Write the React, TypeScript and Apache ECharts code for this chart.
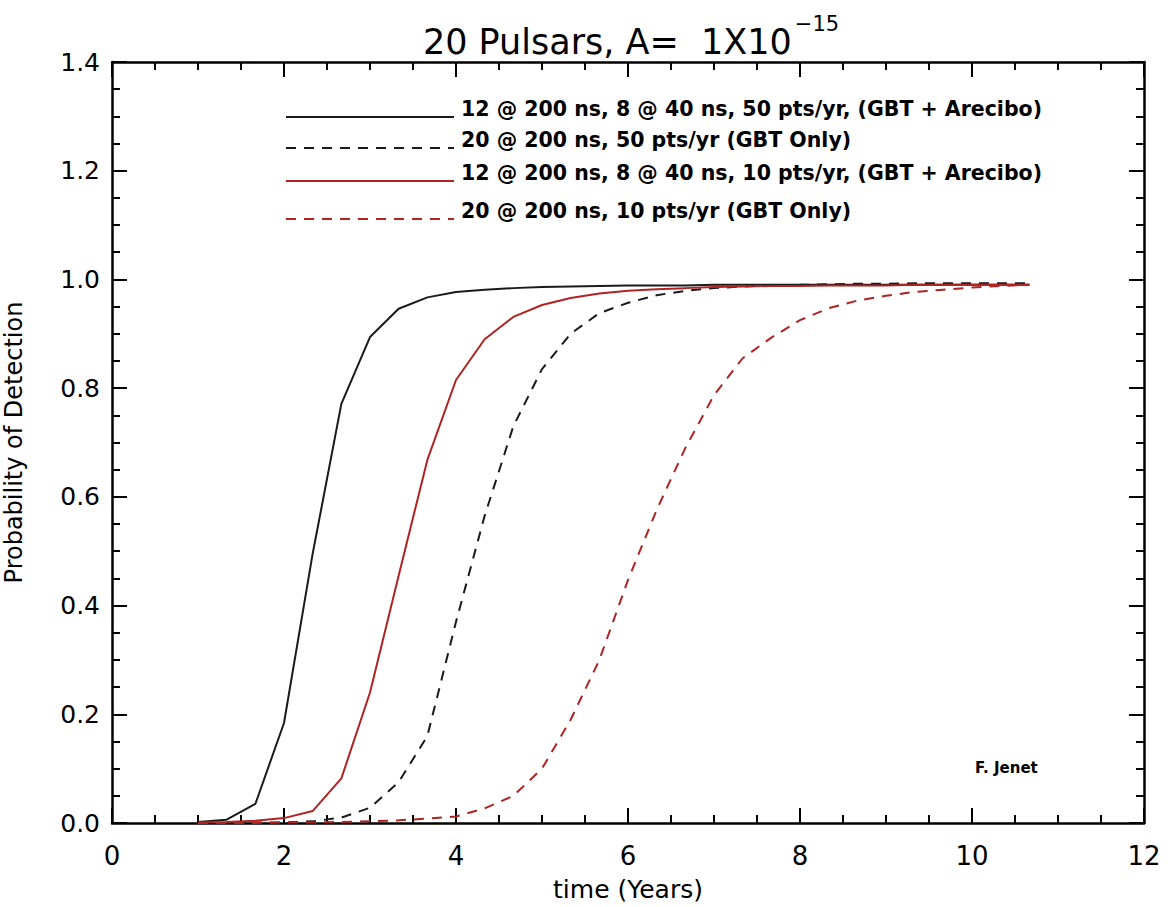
import React, { useEffect, useRef } from "react";
import * as echarts from "echarts";

const xYears = [1, 1.333, 1.667, 2, 2.333, 2.667, 3, 3.333, 3.667, 4, 4.333, 4.667, 5, 5.333, 5.667, 6, 6.333, 6.667, 7, 7.333, 7.667, 8, 8.333, 8.667, 9, 9.333, 9.667, 10, 10.333, 10.667];

const blackSolid = [0.002, 0.006, 0.035, 0.184, 0.495, 0.771, 0.894, 0.946, 0.967, 0.977, 0.981, 0.984, 0.986, 0.987, 0.988, 0.989, 0.989, 0.989, 0.99, 0.99, 0.99, 0.99, 0.99, 0.99, 0.99, 0.99, 0.99, 0.99, 0.99, 0.99];
const blackDashed = [0, 0, 0.001, 0.001, 0.003, 0.01, 0.028, 0.075, 0.16, 0.37, 0.565, 0.73, 0.835, 0.9, 0.938, 0.957, 0.971, 0.979, 0.984, 0.987, 0.989, 0.99, 0.991, 0.992, 0.992, 0.993, 0.993, 0.993, 0.993, 0.993];
const redSolid = [0.001, 0.002, 0.004, 0.009, 0.022, 0.082, 0.24, 0.455, 0.668, 0.815, 0.89, 0.931, 0.953, 0.966, 0.974, 0.979, 0.982, 0.984, 0.986, 0.987, 0.988, 0.988, 0.989, 0.989, 0.989, 0.99, 0.99, 0.99, 0.99, 0.99];
const redDashed = [0, 0, 0, 0.001, 0.001, 0.002, 0.003, 0.005, 0.008, 0.012, 0.027, 0.05, 0.1, 0.19, 0.3, 0.447, 0.576, 0.69, 0.787, 0.855, 0.893, 0.925, 0.947, 0.961, 0.97, 0.977, 0.981, 0.985, 0.988, 0.99];

const seriesNames = [
  "12 @ 200 ns, 8 @ 40 ns, 50 pts/yr, (GBT + Arecibo)",
  "20 @ 200 ns, 50 pts/yr (GBT Only)",
  "12 @ 200 ns, 8 @ 40 ns, 10 pts/yr, (GBT + Arecibo)",
  "20 @ 200 ns, 10 pts/yr (GBT Only)",
];

const BLACK = "#1a1a1a";
const RED = "#b02323";
const FONT = "DejaVu Sans";

function pairs(ys: number[]) {
  return xYears.map((x, i) => [x, ys[i]]);
}

export default function App() {
  const ref = useRef<HTMLDivElement>(null);
  useEffect(() => {
    if (!ref.current) return;
    const chart = echarts.init(ref.current, undefined, { renderer: "svg" });
    const axisCommon = {
      axisLine: { show: true, onZero: false, lineStyle: { color: "#000", width: 2.5 } },
      axisTick: { show: true, inside: true, length: 15, lineStyle: { color: "#000", width: 2 } },
      minorTick: { show: true, splitNumber: 4, length: 8, lineStyle: { color: "#000", width: 2 } },
      splitLine: { show: false },
      minorSplitLine: { show: false },
    };
    const legendRows = [
      { y: 117, color: BLACK, dash: null as number[] | null, text: seriesNames[0] },
      { y: 148, color: BLACK, dash: [10, 8], text: seriesNames[1] },
      { y: 181, color: RED, dash: null, text: seriesNames[2] },
      { y: 219, color: RED, dash: [10, 8], text: seriesNames[3] },
    ];
    const graphics: any[] = [];
    legendRows.forEach((r) => {
      graphics.push({
        type: "line",
        shape: { x1: 286, y1: r.y, x2: 454, y2: r.y },
        style: { stroke: r.color, lineWidth: 2, lineDash: r.dash || undefined },
        silent: true,
      });
      graphics.push({
        type: "text",
        x: 461,
        y: r.y - 8,
        style: {
          text: r.text,
          fill: "#000",
          font: `bold 20.5px "${FONT}"`,
          textVerticalAlign: "middle",
          verticalAlign: "middle",
        },
        silent: true,
      });
    });
    graphics.push({
      type: "text",
      x: 975,
      y: 768,
      style: {
        text: "F. Jenet",
        fill: "#000",
        font: `bold 15px "${FONT}"`,
        verticalAlign: "middle",
        textVerticalAlign: "middle",
      },
      silent: true,
    });

    const mk = (name: string, ys: number[], color: string, dashed: boolean) => ({
      name,
      type: "line",
      data: pairs(ys),
      symbol: "none",
      smooth: false,
      lineStyle: { color, width: 2, type: dashed ? [10, 8] : "solid" },
      itemStyle: { color },
      z: 3,
    });

    chart.setOption({
      animation: false,
      backgroundColor: "#fff",
      title: {
        text: "{m|20 Pulsars, A=  1X10}{s|−15}",
        left: 626,
        top: 8,
        textAlign: "center",
        textStyle: {
          rich: {
            m: { fontFamily: FONT, fontSize: 35, fontWeight: "normal", color: "#000", verticalAlign: "bottom", lineHeight: 46 },
            s: { fontFamily: FONT, fontSize: 21, fontWeight: "normal", color: "#000", verticalAlign: "top", lineHeight: 46, padding: [0, 0, 18, 3] },
          },
        },
      },
      grid: { left: 112, right: 24, top: 62, bottom: 84, containLabel: false, outerBoundsMode: "none" },
      xAxis: [
        {
          type: "value",
          min: 0,
          max: 12,
          interval: 2,
          position: "bottom",
          name: "time (Years)",
          nameLocation: "middle",
          nameGap: 54,
          nameTextStyle: { fontFamily: FONT, fontSize: 25, color: "#000" },
          axisLabel: { fontFamily: FONT, fontSize: 26, color: "#000", margin: 20 },
          ...axisCommon,
        },
        {
          type: "value",
          min: 0,
          max: 12,
          interval: 2,
          position: "top",
          axisLabel: { show: false },
          ...axisCommon,
        },
      ],
      yAxis: [
        {
          type: "value",
          min: 0,
          max: 1.4,
          interval: 0.2,
          position: "left",
          name: "Probability of Detection",
          nameLocation: "middle",
          nameGap: 86,
          nameTextStyle: { fontFamily: FONT, fontSize: 24, color: "#000" },
          axisLabel: {
            fontFamily: FONT,
            fontSize: 25,
            color: "#000",
            margin: 12,
            formatter: (v: number) => v.toFixed(1),
          },
          ...axisCommon,
        },
        {
          type: "value",
          min: 0,
          max: 1.4,
          interval: 0.2,
          position: "right",
          axisLabel: { show: false },
          ...axisCommon,
        },
      ],
      series: [
        mk(seriesNames[0], blackSolid, BLACK, false),
        mk(seriesNames[1], blackDashed, BLACK, true),
        mk(seriesNames[2], redSolid, RED, false),
        mk(seriesNames[3], redDashed, RED, true),
      ],
      graphic: graphics,
    });
    return () => chart.dispose();
  }, []);
  return (
    <div
      ref={ref}
      style={{ position: "absolute", left: 0, top: 0, width: 1168, height: 907, background: "#fff" }}
    />
  );
}
